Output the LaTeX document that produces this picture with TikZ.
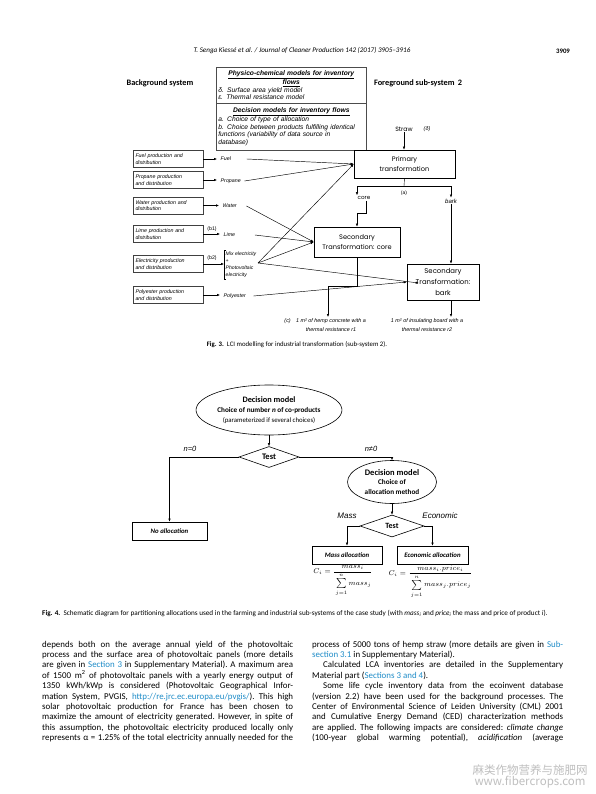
\documentclass[tikz,border=0pt]{standalone}
\usepackage{fontspec}
\setmainfont{Carlito}
\newfontfamily\arialfont{Liberation Sans}
\newfontfamily\gothicfont{Poppins}
\newfontfamily\cjkfont{Noto Sans CJK SC}
\usetikzlibrary{arrows.meta,shapes.geometric,positioning}

\definecolor{linkblue}{RGB}{30,140,200}

% column of the body text:
\newdimen\colw
\colw=251pt
\newcommand\jline[1]{\hbox to \colw{#1}}

\tikzset{
  arr/.style={-{Latex[length=3pt,width=2.4pt]}, line width=0.45pt},
  procbox/.style={draw, line width=0.6pt, align=center, inner sep=1pt,
    font=\gothicfont\fontsize{6.6}{10.5}\selectfont},
  srcbox/.style={draw=black!75, line width=0.6pt, minimum width=70, minimum height=17,
    text width=65, align=left, inner sep=2pt, font=\arialfont\itshape\fontsize{5.3}{6.3}\selectfont},
  flowlbl/.style={anchor=west, inner sep=1.5pt, font=\arialfont\itshape\fontsize{5.3}{6.3}\selectfont},
  modelbox/.style={draw=black!70, line width=0.6pt, anchor=north west, text width=146, align=left,
    inner xsep=2pt, inner ysep=1pt, font=\arialfont\itshape\fontsize{6.7}{7.5}\selectfont},
  outlbl/.style={anchor=north, align=center, inner sep=1pt, font=\arialfont\itshape\fontsize{5.4}{9}\selectfont},
  decell/.style={ellipse, draw, line width=0.6pt, inner sep=0, align=center,
    font=\fontsize{7.2}{9.8}\selectfont},
  testdia/.style={diamond, draw, line width=0.6pt, inner sep=0,
    font=\bfseries\fontsize{8.5}{10}\selectfont},
  allocbox/.style={draw, line width=0.7pt, minimum height=18, inner sep=1pt,
    font=\bfseries\itshape\fontsize{6.8}{8}\selectfont},
  fourlbl/.style={inner sep=1pt, font=\arialfont\itshape\fontsize{7.5}{9}\selectfont},
  formula/.style={anchor=north, inner sep=1pt, font=\fontsize{7.2}{9}\selectfont},
  bodytext/.style={inner sep=0, font=\fontsize{8.9}{10.4}\selectfont\frenchspacing}
}

\begin{document}
\begin{tikzpicture}[x=1pt, y=-1pt]

% paper size:
\pgfmathsetmacro\pwidth{595};
\pgfmathsetmacro\pheight{794};
\fill[white] (0,0) rectangle (\pwidth,\pheight);
\useasboundingbox (0,0) rectangle (\pwidth,\pheight);

% running head
\node[font=\itshape\fontsize{7.1}{8}\selectfont] (runhead) at (302,51)
  {T. Senga Kiessé et al. / Journal of Cleaner Production 142 (2017) 3905--3916};
\node[font=\bfseries\fontsize{6.8}{8}\selectfont] (pagenum) at (563,51) {3909};

%%% Fig. 3
\node[font=\bfseries\fontsize{8.3}{10}\selectfont] (bgsys) at (160,83) {Background system};
\node[font=\bfseries\fontsize{8.3}{10}\selectfont] (fgsys) at (418,83) {Foreground sub-system \,2};

\node[modelbox, minimum height=36] (physbox) at (216,67)
  {{\centering\bfseries\underline{Physico-chemical models for inventory}\\\underline{flows}\par}
   δ. Surface area yield model\\ε. Thermal resistance model};
\node[modelbox, minimum height=47] (decbox) at (216,103)
  {{\centering\bfseries\underline{Decision models for inventory flows}\par}
   a. Choice of type of allocation\\b. Choice between products fulfilling identical\\
   functions (variability of data source in\\database)};

\node[font=\gothicfont\fontsize{6.2}{8}\selectfont, inner sep=1pt] (straw) at (404,129) {Straw};
\node[font=\arialfont\itshape\fontsize{5.4}{8}\selectfont, inner sep=1pt] (strawlbl) at (427,129) {(δ)};

\node[procbox, minimum width=101, minimum height=28] (primary) at (404.5,164) {Primary\\transformation};
\node[procbox, minimum width=86, minimum height=30] (seccore) at (357,242) {Secondary\\Transformation: core};
\node[procbox, minimum width=72, minimum height=36, font=\gothicfont\fontsize{6.9}{10.8}\selectfont]
  (secbark) at (443,282) {Secondary\\Transformation:\\bark};

\draw[arr] (straw.south) -- (straw.south |- primary.north);

\coordinate (split) at (404,186);
\node[font=\arialfont\fontsize{5}{6}\selectfont, inner sep=1pt] (alabel) at (404,193) {(a)};
\node[font=\gothicfont\fontsize{5.6}{7}\selectfont, inner sep=1pt] (corelbl) at (364,198) {core};
\node[font=\arialfont\itshape\fontsize{6}{7}\selectfont, inner sep=1pt] (barklbl) at (451,201) {bark};
\draw (primary.south) -- (split);
\draw[arr] (split) -| ([xshift=-7pt]corelbl.north);
\draw[arr] (split) -| (barklbl.north);
\draw[arr] ([xshift=2pt]corelbl.south) -- ++(0,12) -| (seccore.north);
\draw[arr] (barklbl.south) -- (barklbl.south |- secbark.north);

% functional units
\node[outlbl] (hemplbl) at (331,317) {1 m² of hemp concrete with a\\thermal resistance r1};
\node[outlbl, anchor=north east] (clbl) at ([xshift=-3pt]hemplbl.north west) {(c)};
\node[outlbl] (boardlbl) at (427,317) {1 m² of insulating board with a\\thermal resistance r2};
\draw[arr] (seccore.south) -- ++(0,29) -| ([xshift=-3pt]hemplbl.north);
\draw[arr] (barklbl.south |- secbark.south) -- (barklbl.south |- boardlbl.north);

% background processes
\foreach \id/\ypos/\txt in {
  fuel/159/{Fuel production and\\distribution},
  propane/180/{Propane production\\and distribution},
  water/205.5/{Water production and\\distribution},
  lime/234/{Lime production and\\distribution},
  elec/264/{Electricity production\\and distribution},
  poly/295/{Polyester production\\and distribution}}
  \node[srcbox] (src\id) at (168,\ypos) {\txt};

\foreach \id/\xpos/\ypos/\txt in {fuel/219/159/Fuel, propane/219/181/Propane,
  water/221/206/Water, lime/222/235/Lime, poly/222/296/Polyester}
  \node[flowlbl] (lbl\id) at (\xpos,\ypos) {\txt};
\node[flowlbl, align=left, font=\arialfont\itshape\fontsize{5.1}{7}\selectfont]
  (lblelec) at (224,265) {Mix electricity\\+\\Photovoltaic\\electricity};
\draw[line width=0.6pt] ([xshift=2pt]lblelec.north west) -- (lblelec.north west)
  -- (lblelec.south west) -- ([xshift=2pt]lblelec.south west);

\node[font=\arialfont\fontsize{5.2}{6}\selectfont, inner sep=1pt] (bone) at (212,229) {(b1)};
\node[font=\arialfont\fontsize{5.2}{6}\selectfont, inner sep=1pt] (btwo) at (212,258) {(b2)};

\foreach \id in {fuel,propane,water,lime,poly}
  \draw[arr, shorten >=2pt] (src\id.east) -- (src\id.east -| lbl\id.west);
\draw[arr] (srcelec.east) -- (srcelec.east -| lblelec.west);

\draw[arr] ([xshift=14pt]lblfuel.east) -- (primary.west);
\draw[arr] ([xshift=2pt]lblpropane.east) -- (primary.west);
\draw[arr] ([xshift=8pt]lblwater.east) -- (seccore.west);
\draw[arr] ([xshift=18pt]lbllime.east) -- (seccore.west);
\draw[arr] ([yshift=2pt]lblelec.east) -- (primary.west);
\draw[arr] ([yshift=2pt]lblelec.east) -- (seccore.west);
\draw[arr] ([yshift=2pt]lblelec.east) -- ([xshift=12pt,yshift=-1pt]secbark.west);
\draw[arr] ([xshift=6pt]lblpoly.east) -- (secbark.west);

\node[font=\fontsize{6.8}{8}\selectfont] (figthree) at (297,345)
  {\textbf{Fig. 3.}\ \ LCI modelling for industrial transformation (sub-system 2).};

%%% Fig. 4
\node[decell, minimum width=143, minimum height=50] (choicen) at (269,410)
  {{\fontsize{8.3}{9.8}\selectfont\bfseries Decision model}\\
   {\bfseries Choice of number \textit{n} of co-products}\\
   {\fontsize{6.8}{9.8}\selectfont (parameterized if several choices)}};
\node[testdia, minimum width=60, minimum height=21] (testn) at (269,457) {Test};
\node[allocbox, minimum width=75] (noalloc) at (169.5,531) {No allocation};
\node[decell, minimum width=89, minimum height=43, font=\bfseries\fontsize{7.2}{9.6}\selectfont]
  (choicemeth) at (392,482)
  {{\fontsize{8.5}{9.6}\selectfont Decision model}\\Choice of\\allocation method};
\node[testdia, minimum width=64, minimum height=22, font=\bfseries\fontsize{8}{10}\selectfont]
  (testmeth) at (392,526) {Test};
\node[allocbox, minimum width=70] (massalloc) at (347,555) {Mass allocation};
\node[allocbox, minimum width=71] (econalloc) at (432.5,555) {Economic allocation};

\node[fourlbl] (nzero) at (190,449) {n=0};
\node[fourlbl] (nnonzero) at (371,449) {n≠0};
\node[fourlbl, font=\arialfont\itshape\fontsize{8}{9}\selectfont] (masslbl) at (347,516) {Mass};
\node[fourlbl, font=\arialfont\itshape\fontsize{8}{9}\selectfont] (econlbl) at (440,516) {Economic};

\draw[arr] (choicen.south) -- (testn.north);
\draw[arr] (testn.west) -| (noalloc.north);
\draw[arr] (testn.east) -| (choicemeth.north);
\draw[arr] (choicemeth.south) -- (testmeth.north);
\draw[arr] (testmeth.west) -| (massalloc.north);
\draw[arr] (testmeth.east) -| (econalloc.north);

\node[formula] (massform) at ([xshift=-4pt]massalloc.south)
  {$\displaystyle C_i=\frac{mass_i}{\rule{0pt}{8pt}\sum\limits_{j=1}^{n} mass_j}$};
\node[formula] (econform) at ([xshift=-2pt]econalloc.south)
  {$\displaystyle C_i=\frac{mass_i.price_i}{\rule{0pt}{8pt}\sum\limits_{j=1}^{n} mass_j.price_j}$};

\node[anchor=west, font=\fontsize{7.2}{8}\selectfont, inner sep=0] (figfour) at (42,613)
  {\textbf{Fig. 4.}\ \ Schematic diagram for partitioning allocations used in the farming and industrial
   sub-systems of the case study (with \textit{mass\textsubscript{i}} and \textit{price\textsubscript{i}}
   the mass and price of product \textit{i}).};

%%% body text
\node[bodytext, anchor=base west] (leftcol) at (42,647) {\vtop{\baselineskip=10.4pt
  \jline{depends both on the average annual yield of the photovoltaic}
  \jline{process and the surface area of photovoltaic panels (more details}
  \jline{are given in \textcolor{linkblue}{Section 3} in Supplementary Material). A maximum area}
  \jline{of 1500 m\textsuperscript{2} of photovoltaic panels with a yearly energy output of}
  \jline{1350 kWh/kWp is considered (Photovoltaic Geographical Infor-}
  \jline{mation System, PVGIS, \textcolor{linkblue}{http://re.jrc.ec.europa.eu/pvgis/}). This high}
  \jline{solar photovoltaic production for France has been chosen to}
  \jline{maximize the amount of electricity generated. However, in spite of}
  \jline{this assumption, the photovoltaic electricity produced locally only}
  \jline{represents α = 1.25\% of the total electricity annually needed for the}}};

\node[bodytext, anchor=base west] (rightcol) at (312,647) {\vtop{\baselineskip=10.4pt
  \jline{process of 5000 tons of hemp straw (more details are given in \textcolor{linkblue}{Sub-}}
  \hbox{\textcolor{linkblue}{section 3.1} in Supplementary Material).}
  \jline{\hskip 11pt Calculated LCA inventories are detailed in the Supplementary}
  \hbox{Material part (\textcolor{linkblue}{Sections 3 and 4}).}
  \jline{\hskip 11pt Some life cycle inventory data from the ecoinvent database}
  \jline{(version 2.2) have been used for the background processes. The}
  \jline{Center of Environmental Science of Leiden University (CML) 2001}
  \jline{and Cumulative Energy Demand (CED) characterization methods}
  \jline{are applied. The following impacts are considered: \textit{climate change}}
  \jline{(100-year global warming potential), \textit{acidification} (average}}};

% watermark
\node[text=black!25, font=\cjkfont\fontsize{11.5}{12}\selectfont, inner sep=0] (wmcn) at (530,770) {麻类作物营养与施肥网};
\node[text=black!25, font=\cjkfont\fontsize{11.5}{12}\selectfont, inner sep=0] (wmurl) at (530,782) {www.fibercrops.com};

\end{tikzpicture}
\end{document}
